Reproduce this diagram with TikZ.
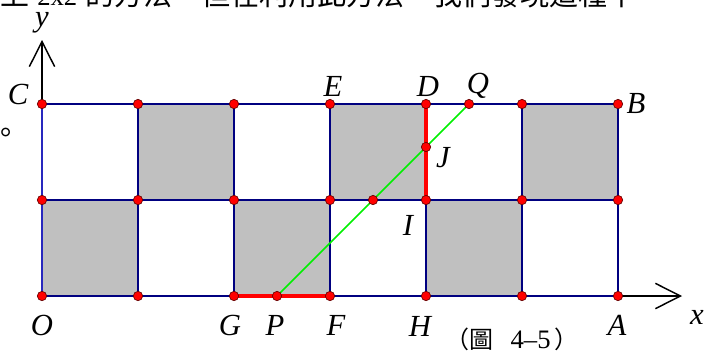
\documentclass[tikz,border=0pt]{standalone}
\usepackage{fontspec}
\setmainfont{Liberation Serif}
\newfontfamily\cjk{Noto Sans CJK TC}
\usetikzlibrary{arrows.meta}
\definecolor{navy}{RGB}{0,0,128}
\definecolor{leftblue}{RGB}{40,40,190}
\definecolor{sqgray}{RGB}{192,192,192}
\definecolor{ptred}{RGB}{255,0,0}
\definecolor{lgreen}{RGB}{0,240,0}
\begin{document}
\begin{tikzpicture}[x=0.75pt,y=-0.75pt,
  lbl/.style={font=\fontsize{23}{23}\selectfont\itshape, inner sep=0pt},
  topline/.style={font=\cjk\fontsize{21.75}{21.75}\selectfont, inner sep=0pt, anchor=base west},
  gridln/.style={draw=navy, line width=1.5pt},
  axisln/.style={draw=black, line width=1.1pt, -{Straight Barb[length=18.75pt,width=19pt,line width=1.1pt]}},
  redbar/.style={draw=ptred, line width=3.6pt},
  greenln/.style={draw=lgreen, line width=1.1pt},
  pt/.style={circle, fill=ptred, draw=black!60!red, line width=0.5pt, minimum size=7pt, inner sep=0pt}]
\useasboundingbox (0,0) rectangle (714,355);
% grid coordinates
\foreach \i in {0,...,6}{
  \foreach \j in {0,1,2}{
    \coordinate (g\i\j) at ({42+96*\i},{296-96*\j});
  }
}
\coordinate (ptP) at (277,296);
\coordinate (ptQ) at (469,104);
\coordinate (ptJ) at (426,147);
\coordinate (ptK) at (373,200);
\coordinate (ytip) at (42,40);
\coordinate (xtip) at (682,296);
% gray squares
\foreach \i/\j in {0/0,2/0,4/0,1/1,3/1,5/1}{
  \pgfmathtruncatemacro{\ii}{\i+1}
  \pgfmathtruncatemacro{\jj}{\j+1}
  \fill[sqgray] (g\i\j) rectangle (g\ii\jj);
}
% grid lines
\foreach \j in {0,1,2}{
  \draw[gridln] (g0\j) -- (g6\j);
}
\foreach \i in {1,...,6}{
  \draw[gridln] (g\i0) -- (g\i2);
}
\draw[draw=leftblue, line width=1.1pt] (g00) -- (g02);
% red bars
\draw[redbar] (g20) -- (g30);
\draw[redbar] (g42) -- (g41);
% green line
\draw[greenln] (ptP) -- (ptQ);
% axes
\draw[axisln] (g02) -- (ytip);
\draw[axisln] (g60) -- (xtip);
% points
\foreach \i in {0,...,6}{
  \foreach \j in {0,1,2}{
    \node[pt] (n\i\j) at (g\i\j) {};
  }
}
\node[pt] (P) at (ptP) {};
\node[pt] (Q) at (ptQ) {};
\node[pt] (J) at (ptJ) {};
\node[pt] (K) at (ptK) {};
% labels
\node[lbl] (lC) at (18,94) {C};
\node[lbl] (ly) at (42,23) {y};
\node[lbl] (lE) at (333,86) {E};
\node[lbl] (lD) at (428,86) {D};
\node[lbl] (lQ) at (478,86) {Q};
\node[lbl] (lB) at (636,103) {B};
\node[lbl] (lJ) at (443,158) {J};
\node[lbl] (lI) at (408,225) {I};
\node[lbl] (lO) at (42,325) {O};
\node[lbl] (lG) at (230,325) {G};
\node[lbl] (lP) at (275,325) {P};
\node[lbl] (lF) at (336,325) {F};
\node[lbl] (lH) at (420,326) {H};
\node[lbl] (lA) at (617,325) {A};
\node[lbl] (lx) at (697,317) {x};
% caption
\node[inner sep=0pt, anchor=base west] (cap) at (445,348)
  {{\cjk\fontsize{18}{18}\selectfont （圖}\hspace{13pt}{\fontsize{20}{20}\selectfont 4–5}\hspace{3pt}{\cjk\fontsize{18}{18}\selectfont ）}};
% cropped text line at top
\node[topline] (t1) at (0,5) {上};
\node[inner sep=0pt, anchor=base west, font=\fontsize{20}{20}\selectfont] (t2) at (37,5) {2x2};
\node[topline] (t3) at (85,5) {的方法。但在利用此方法，我們發現這種中};
% stray full stop at left
\node[inner sep=0pt, font=\cjk\fontsize{21.75}{21.75}\selectfont] (stop) at (6,136) {。};
\end{tikzpicture}
\end{document}
